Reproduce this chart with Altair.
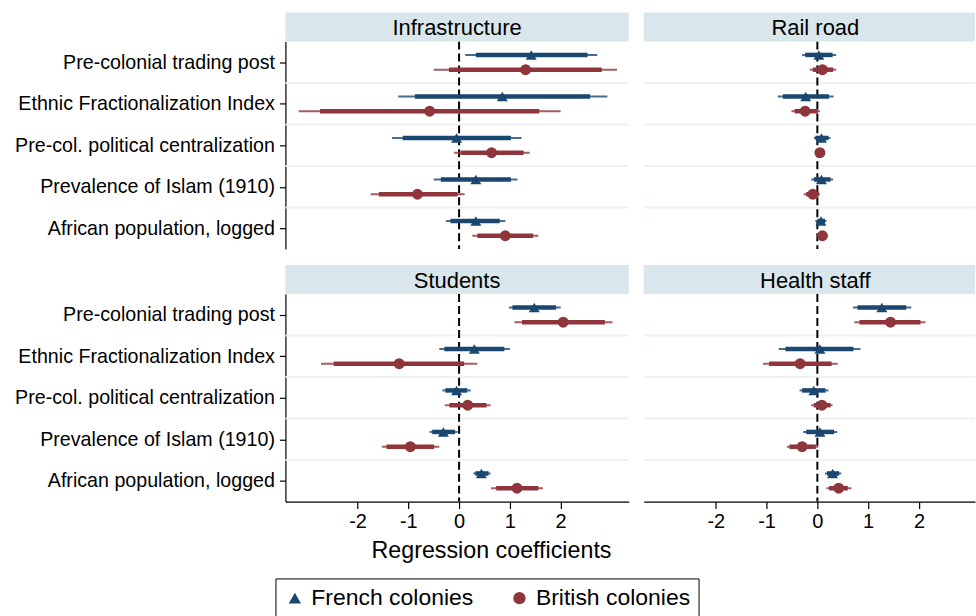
import altair as alt
import pandas as pd

# ---- data -----------------------------------------------------------------
categories = [
    "Pre-colonial trading post",
    "Ethnic Fractionalization Index",
    "Pre-col. political centralization",
    "Prevalence of Islam (1910)",
    "African population, logged",
]
panels = ["Infrastructure", "Rail road", "Students", "Health staff"]
series = ["French colonies", "British colonies"]

# est = point estimate, lo90/hi90 = thick interval, lo95/hi95 = thin interval
infra_french = dict(
    est=[1.42, 0.85, -0.05, 0.33, 0.33],
    lo90=[0.33, -0.87, -1.11, -0.36, -0.17], hi90=[2.53, 2.58, 1.02, 1.02, 0.80],
    lo95=[0.12, -1.20, -1.32, -0.50, -0.26], hi95=[2.72, 2.92, 1.23, 1.15, 0.91],
)
infra_british = dict(
    est=[1.31, -0.58, 0.64, -0.82, 0.91],
    lo90=[-0.20, -2.74, 0.03, -1.58, 0.36], hi90=[2.81, 1.58, 1.27, -0.03, 1.46],
    lo95=[-0.50, -3.16, -0.10, -1.74, 0.26], hi95=[3.11, 2.00, 1.39, 0.11, 1.56],
)
rail_french = dict(
    est=[0.03, -0.23, 0.08, 0.08, 0.07],
    lo90=[-0.24, -0.68, -0.04, -0.07, 0.00], hi90=[0.30, 0.23, 0.22, 0.26, 0.15],
    lo95=[-0.30, -0.78, -0.07, -0.12, -0.04], hi95=[0.37, 0.32, 0.26, 0.31, 0.18],
)
rail_british = dict(
    est=[0.10, -0.24, 0.05, -0.09, 0.10],
    lo90=[-0.09, -0.45, 0.00, -0.22, 0.05], hi90=[0.31, 0.01, 0.10, 0.03, 0.15],
    lo95=[-0.15, -0.51, -0.02, -0.27, 0.03], hi95=[0.37, 0.05, 0.12, 0.05, 0.17],
)
students_french = dict(
    est=[1.48, 0.30, -0.05, -0.31, 0.44],
    lo90=[1.05, -0.29, -0.27, -0.53, 0.32], hi90=[1.91, 0.89, 0.16, -0.08, 0.58],
    lo95=[0.98, -0.39, -0.33, -0.58, 0.28], hi95=[2.00, 1.00, 0.23, -0.03, 0.62],
)
students_british = dict(
    est=[2.05, -1.18, 0.17, -0.96, 1.14],
    lo90=[1.24, -2.47, -0.19, -1.43, 0.73], hi90=[2.87, 0.10, 0.54, -0.49, 1.56],
    lo95=[1.09, -2.72, -0.28, -1.52, 0.63], hi95=[3.02, 0.36, 0.62, -0.39, 1.65],
)
health_french = dict(
    est=[1.27, 0.05, -0.07, 0.05, 0.30],
    lo90=[0.79, -0.63, -0.30, -0.22, 0.19], hi90=[1.75, 0.71, 0.16, 0.33, 0.43],
    lo95=[0.70, -0.76, -0.35, -0.28, 0.15], hi95=[1.85, 0.85, 0.22, 0.39, 0.47],
)
health_british = dict(
    est=[1.44, -0.34, 0.09, -0.30, 0.42],
    lo90=[0.83, -0.95, -0.07, -0.55, 0.23], hi90=[2.03, 0.28, 0.26, -0.03, 0.60],
    lo95=[0.73, -1.07, -0.12, -0.60, 0.18], hi95=[2.13, 0.40, 0.30, 0.02, 0.67],
)

blocks = [
    ("Infrastructure", series[0], infra_french),
    ("Infrastructure", series[1], infra_british),
    ("Rail road", series[0], rail_french),
    ("Rail road", series[1], rail_british),
    ("Students", series[0], students_french),
    ("Students", series[1], students_british),
    ("Health staff", series[0], health_french),
    ("Health staff", series[1], health_british),
]

# ---- styling ----------------------------------------------------------------
FRENCH = "#1A476F"
BRITISH = "#90353B"
SERIES_COLORS = {series[0]: FRENCH, series[1]: BRITISH}
HEADER_FILL = "#D9E6EB"
GRID = "#ECF1F3"
FONT = "Liberation Sans"

PANEL_W = 344          # full panel width
RIGHT_W = 332          # visible width of the right-hand column
PLOT_H = 208
HEAD_H = 29
X_LO, X_HI = -3.42, 3.34
X_HI_RIGHT = X_LO + (X_HI - X_LO) * RIGHT_W / PANEL_W
ROW_SHIFT = 0.178      # vertical dodge of the two series within a row

rows = []
for panel_name, ser_name, d in blocks:
    shift = -ROW_SHIFT if ser_name == series[0] else ROW_SHIFT
    for i, cat in enumerate(categories):
        rows.append({
            "panel": panel_name, "series": ser_name, "var": cat,
            "pos": i + 1 + shift,
            "est": d["est"][i],
            "lo90": d["lo90"][i], "hi90": d["hi90"][i],
            "lo95": d["lo95"][i], "hi95": d["hi95"][i],
        })
df = pd.DataFrame(rows)

label_list = "[" + ",".join("'" + c + "'" for c in categories) + "]"
y_label_expr = label_list + "[datum.value - 1]"

color_scale = alt.Scale(domain=series, range=[FRENCH, BRITISH])
shape_scale = alt.Scale(domain=series, range=["triangle-up", "circle"])

legend_spec = alt.Legend(
    title=None, orient="none", legendX=-10, legendY=538, direction="horizontal",
    labelFont=FONT, labelFontSize=23, labelColor="black", labelOffset=5,
    labelLimit=400, symbolSize=150, symbolStrokeWidth=0, symbolOpacity=1,
    strokeColor="black", fillColor="white", padding=8, columnPadding=34,
)


def plot_panel(name, width, x_hi, y_labels, x_labels):
    sub = df[df["panel"] == name]
    xs = alt.Scale(domain=[X_LO, x_hi], nice=False, zero=False)
    ys = alt.Scale(domain=[0.5, 5.5], reverse=True, nice=False, zero=False)

    if y_labels:
        y_axis = alt.Axis(
            values=[1, 2, 3, 4, 5], labelExpr=y_label_expr, title=None, grid=False,
            domainColor="black", domainWidth=1.2, tickColor="black", tickWidth=1.2,
            tickSize=6, labelPadding=5, labelFont=FONT, labelFontSize=19.7,
            labelColor="black", labelLimit=400,
        )
    else:
        y_axis = None

    if x_labels:
        x_axis = alt.Axis(
            values=[-2, -1, 0, 1, 2], labelExpr="'' + datum.value", grid=False,
            domainColor="black", domainWidth=1.2, tickColor="black", tickWidth=1.2,
            tickSize=7, labelPadding=3, labelFont=FONT, labelFontSize=20,
            labelColor="black",
            title="Regression coefficients" if y_labels else None,
            titleFont=FONT, titleFontSize=23.3, titleFontWeight="normal",
            titleColor="black", titlePadding=8, titleX=206, titleAlign="center",
        )
    else:
        x_axis = None

    # strip above the panel carrying its name
    strip_data = pd.DataFrame({"label": [name]})
    strip = alt.Chart(strip_data).mark_rect(color=HEADER_FILL).encode(
        x=alt.value(0), x2=alt.value(width),
        y=alt.value(-HEAD_H), y2=alt.value(0),
    )
    strip_text = alt.Chart(strip_data).mark_text(
        font=FONT, fontSize=22, color="black", baseline="middle", align="center"
    ).encode(text="label:N", x=alt.value(PANEL_W / 2), y=alt.value(-HEAD_H / 2 + 1))

    band_edges = alt.Chart(pd.DataFrame({"edge": [1.5, 2.5, 3.5, 4.5]})).mark_rule(
        color=GRID, strokeWidth=2
    ).encode(y=alt.Y("edge:Q", scale=ys, axis=y_axis))

    zero = alt.Chart(pd.DataFrame({"z": [0]})).mark_rule(
        color="black", strokeWidth=2, strokeDash=[8, 4]
    ).encode(x=alt.X("z:Q", scale=xs, axis=x_axis))

    y_enc = alt.Y("pos:Q", scale=ys, axis=y_axis)

    # confidence intervals, one pair of layers per series
    interval_layers = []
    for ser_name in series:
        ser = alt.Chart(sub[sub["series"] == ser_name])
        interval_layers.append(
            ser.mark_rule(strokeWidth=2, opacity=0.8, color=SERIES_COLORS[ser_name]).encode(
                x=alt.X("lo95:Q", scale=xs, axis=x_axis), x2="hi95:Q", y=y_enc
            )
        )
        interval_layers.append(
            ser.mark_rule(strokeWidth=4.5, color=SERIES_COLORS[ser_name]).encode(
                x=alt.X("lo90:Q", scale=xs, axis=x_axis), x2="hi90:Q", y=y_enc
            )
        )

    points = alt.Chart(sub).mark_point(filled=True, opacity=1, size=120).encode(
        x=alt.X("est:Q", scale=xs, axis=x_axis),
        y=y_enc,
        color=alt.Color("series:N", scale=color_scale, legend=legend_spec),
        shape=alt.Shape("series:N", scale=shape_scale, legend=legend_spec),
    )

    return alt.layer(
        band_edges, zero, *interval_layers, points, strip, strip_text
    ).properties(width=width, height=PLOT_H)


chart = alt.concat(
    plot_panel("Infrastructure", PANEL_W, X_HI, True, False),
    plot_panel("Rail road", RIGHT_W, X_HI_RIGHT, False, False),
    plot_panel("Students", PANEL_W, X_HI, True, True),
    plot_panel("Health staff", RIGHT_W, X_HI_RIGHT, False, True),
    columns=2,
    spacing={"row": 16 + HEAD_H, "column": 15},
    bounds="flush",
).resolve_scale(
    x="independent", y="independent", color="shared", shape="shared"
).resolve_legend(color="shared", shape="shared").properties(
    padding={"left": 14, "top": 12, "right": 0, "bottom": 0},
    background="white",
).configure_view(strokeWidth=0)

chart.save("out.html", embed_options={"renderer": "svg", "actions": False})
